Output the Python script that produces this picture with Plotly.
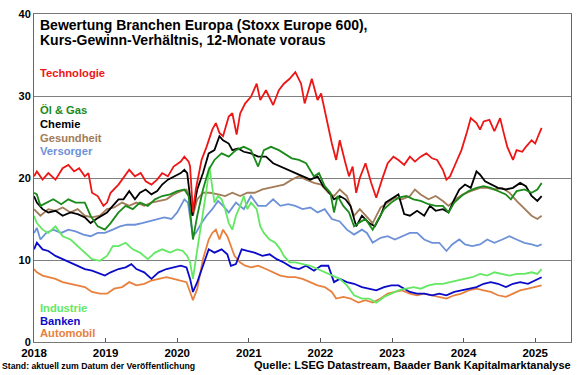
import plotly.graph_objects as go

# ---- data: (decimal year, forward P/E) ----
TECHNOLOGIE = [(2018.00,20.2),(2018.04,20.8),(2018.12,19.8),(2018.20,20.6),(2018.30,19.8),(2018.40,21.2),(2018.48,21.6),(2018.56,20.8),(2018.63,21.2),(2018.71,20.2),(2018.76,20.6),(2018.81,18.2),(2018.89,17.8),(2018.97,16.6),(2019.02,17.0),(2019.07,18.2),(2019.18,19.2),(2019.28,20.4),(2019.33,21.0),(2019.41,20.2),(2019.49,20.6),(2019.56,19.6),(2019.64,19.2),(2019.72,19.8),(2019.79,20.6),(2019.87,20.2),(2019.95,21.4),(2020.05,22.0),(2020.10,22.6),(2020.16,22.0),(2020.18,21.4),(2020.22,15.8),(2020.26,18.6),(2020.34,22.2),(2020.41,23.8),(2020.49,25.9),(2020.54,26.7),(2020.59,25.5),(2020.64,25.1),(2020.72,27.5),(2020.77,27.9),(2020.83,25.3),(2020.88,27.9),(2020.95,29.1),(2021.03,29.9),(2021.11,31.5),(2021.16,29.5),(2021.24,30.7),(2021.34,28.9),(2021.42,30.7),(2021.49,31.5),(2021.57,32.1),(2021.65,32.9),(2021.73,31.5),(2021.78,29.1),(2021.88,32.1),(2021.96,29.5),(2022.01,30.3),(2022.06,28.3),(2022.11,25.9),(2022.16,24.2),(2022.22,22.2),(2022.27,24.6),(2022.35,21.8),(2022.40,20.2),(2022.45,21.4),(2022.50,18.2),(2022.55,20.0),(2022.63,21.8),(2022.71,19.4),(2022.78,17.6),(2022.86,19.8),(2022.94,21.8),(2023.02,22.6),(2023.09,22.2),(2023.17,21.6),(2023.25,22.6),(2023.32,22.0),(2023.40,22.6),(2023.48,23.0),(2023.56,22.4),(2023.63,22.2),(2023.71,21.0),(2023.76,19.8),(2023.81,20.2),(2023.89,21.8),(2023.97,23.4),(2024.05,25.7),(2024.10,27.3),(2024.18,26.7),(2024.23,25.9),(2024.28,26.9),(2024.36,27.1),(2024.43,25.7),(2024.51,27.3),(2024.56,25.5),(2024.61,23.8),(2024.69,22.2),(2024.74,23.4),(2024.82,23.2),(2024.87,23.8),(2024.95,24.6),(2025.00,24.2),(2025.05,25.3),(2025.09,26.1)]

OEL_GAS = [(2018.00,18.2),(2018.04,18.0),(2018.09,16.6),(2018.17,17.0),(2018.27,17.4),(2018.38,16.8),(2018.48,17.4),(2018.58,17.0),(2018.71,17.0),(2018.79,15.4),(2018.89,14.1),(2018.99,13.7),(2019.07,14.5),(2019.18,15.8),(2019.28,16.6),(2019.38,16.2),(2019.48,17.0),(2019.59,16.6),(2019.69,17.4),(2019.79,17.8),(2019.90,18.0),(2020.00,18.4),(2020.10,18.6),(2020.16,17.8),(2020.22,12.5),(2020.28,15.4),(2020.36,18.6),(2020.44,21.0),(2020.52,22.2),(2020.62,23.0),(2020.72,22.6),(2020.82,23.4),(2020.93,23.8),(2021.03,23.4),(2021.13,21.4),(2021.21,23.4),(2021.31,23.8),(2021.42,23.4),(2021.49,23.0),(2021.60,22.4),(2021.70,22.2),(2021.80,21.8),(2021.91,20.2),(2021.98,20.6),(2022.06,19.0),(2022.14,18.2),(2022.19,15.8),(2022.24,17.8),(2022.32,16.6),(2022.40,15.8),(2022.47,14.1),(2022.53,14.5),(2022.63,15.0),(2022.73,13.7),(2022.81,15.0),(2022.89,16.2),(2022.99,17.0),(2023.09,17.6),(2023.20,17.8),(2023.30,17.4),(2023.40,17.2),(2023.51,16.8),(2023.61,16.6),(2023.71,16.6),(2023.79,15.8),(2023.87,17.0),(2023.97,17.8),(2024.07,18.4),(2024.18,18.8),(2024.28,19.0),(2024.38,18.8),(2024.48,18.4),(2024.59,18.0),(2024.66,17.4),(2024.74,18.4),(2024.85,18.6),(2024.95,18.2),(2025.03,18.6),(2025.09,19.4)]

CHEMIE = [(2018.00,17.8),(2018.04,17.0),(2018.12,16.2),(2018.20,15.8),(2018.30,16.0),(2018.40,15.4),(2018.51,15.8),(2018.61,15.6),(2018.71,15.2),(2018.79,14.5),(2018.87,15.0),(2018.94,15.4),(2019.02,15.8),(2019.10,16.6),(2019.18,17.4),(2019.25,17.4),(2019.33,18.4),(2019.41,17.4),(2019.48,18.2),(2019.56,18.6),(2019.64,18.0),(2019.72,18.4),(2019.79,19.2),(2019.87,19.8),(2019.95,20.2),(2020.05,20.6),(2020.10,21.0),(2020.14,20.6),(2020.21,15.4),(2020.28,18.6),(2020.36,20.6),(2020.44,23.0),(2020.52,23.4),(2020.59,25.1),(2020.64,24.6),(2020.72,24.2),(2020.77,23.4),(2020.85,23.6),(2020.93,23.2),(2021.03,23.0),(2021.13,22.6),(2021.24,22.6),(2021.34,21.8),(2021.44,21.4),(2021.55,21.0),(2021.65,20.6),(2021.75,20.2),(2021.86,19.8),(2021.96,20.2),(2022.04,19.0),(2022.11,18.4),(2022.19,17.4),(2022.27,17.8),(2022.35,17.4),(2022.42,16.6),(2022.50,14.1),(2022.58,15.4),(2022.68,14.5),(2022.76,14.1),(2022.84,15.4),(2022.91,17.0),(2022.99,17.4),(2023.09,18.0),(2023.17,15.6),(2023.25,15.4),(2023.35,16.0),(2023.45,15.4),(2023.53,16.6),(2023.61,16.0),(2023.71,16.2),(2023.79,15.8),(2023.87,17.4),(2023.94,18.6),(2024.02,19.2),(2024.10,18.8),(2024.18,20.8),(2024.23,20.4),(2024.30,19.6),(2024.38,19.2),(2024.48,18.8),(2024.59,18.6),(2024.69,18.8),(2024.79,19.4),(2024.87,19.0),(2024.95,17.8),(2025.03,17.2),(2025.09,17.8)]

GESUNDHEIT = [(2018.00,16.2),(2018.09,15.4),(2018.20,16.2),(2018.30,16.0),(2018.40,16.4),(2018.51,15.8),(2018.61,16.2),(2018.71,15.4),(2018.81,15.2),(2018.92,15.4),(2019.02,16.2),(2019.12,16.4),(2019.23,17.0),(2019.33,16.6),(2019.43,17.0),(2019.54,16.6),(2019.64,17.0),(2019.74,17.2),(2019.85,17.4),(2019.95,18.0),(2020.05,18.4),(2020.13,18.6),(2020.18,17.4),(2020.22,15.4),(2020.28,17.4),(2020.36,18.2),(2020.46,18.2),(2020.57,18.0),(2020.67,17.8),(2020.77,18.2),(2020.88,17.8),(2020.98,18.2),(2021.08,18.2),(2021.19,18.6),(2021.29,18.8),(2021.39,19.0),(2021.49,19.2),(2021.60,19.8),(2021.70,20.2),(2021.80,19.8),(2021.91,19.4),(2022.01,19.2),(2022.11,18.2),(2022.19,17.8),(2022.27,18.6),(2022.37,17.8),(2022.47,15.4),(2022.55,16.2),(2022.65,15.2),(2022.73,14.5),(2022.84,16.4),(2022.94,17.0),(2023.04,17.6),(2023.14,17.4),(2023.25,17.8),(2023.32,18.6),(2023.40,18.0),(2023.51,17.4),(2023.61,17.8),(2023.71,17.2),(2023.79,16.6),(2023.89,17.4),(2023.99,18.0),(2024.10,18.4),(2024.23,18.8),(2024.33,18.8),(2024.43,18.6),(2024.54,18.8),(2024.64,18.2),(2024.74,17.2),(2024.85,16.2),(2024.95,15.4),(2025.03,15.0),(2025.09,15.4)]

VERSORGER = [(2018.00,13.3),(2018.04,13.9),(2018.09,12.5),(2018.17,13.3),(2018.27,13.7),(2018.38,13.3),(2018.48,13.7),(2018.58,13.5),(2018.69,13.1),(2018.79,12.9),(2018.89,13.3),(2018.99,13.3),(2019.10,13.7),(2019.20,14.1),(2019.30,14.3),(2019.41,14.3),(2019.51,14.5),(2019.61,14.7),(2019.72,15.0),(2019.82,15.2),(2019.92,15.0),(2020.00,15.8),(2020.10,17.4),(2020.15,17.0),(2020.22,12.9),(2020.26,13.3),(2020.34,14.5),(2020.41,15.4),(2020.49,16.2),(2020.57,17.2),(2020.64,16.6),(2020.72,15.8),(2020.82,17.0),(2020.93,16.2),(2021.03,17.8),(2021.13,16.6),(2021.24,16.6),(2021.34,17.4),(2021.44,16.6),(2021.55,16.8),(2021.65,16.6),(2021.75,16.2),(2021.86,16.4),(2021.96,15.8),(2022.06,16.2),(2022.16,15.0),(2022.27,14.7),(2022.37,13.7),(2022.47,13.1),(2022.58,13.7),(2022.65,13.3),(2022.73,12.1),(2022.84,12.7),(2022.94,12.9),(2023.04,12.5),(2023.14,12.9),(2023.25,13.3),(2023.35,13.3),(2023.45,12.5),(2023.56,12.1),(2023.66,12.1),(2023.76,11.1),(2023.84,11.9),(2023.94,12.5),(2024.02,11.9),(2024.12,11.7),(2024.23,11.9),(2024.33,12.5),(2024.43,12.1),(2024.54,12.5),(2024.64,12.9),(2024.74,12.5),(2024.85,12.1),(2024.95,11.9),(2025.03,11.7),(2025.09,11.9)]

INDUSTRIE = [(2018.00,15.4),(2018.04,14.5),(2018.12,13.7),(2018.20,13.3),(2018.30,14.1),(2018.40,12.9),(2018.51,12.5),(2018.61,11.7),(2018.71,10.9),(2018.81,10.1),(2018.92,9.9),(2019.02,10.5),(2019.10,11.7),(2019.18,11.7),(2019.28,12.1),(2019.38,11.3),(2019.48,10.9),(2019.59,10.1),(2019.69,10.9),(2019.79,11.3),(2019.90,10.9),(2020.00,11.3),(2020.08,11.1),(2020.14,10.5),(2020.18,9.7),(2020.22,7.7),(2020.26,10.1),(2020.31,12.9),(2020.36,15.4),(2020.41,18.6),(2020.45,21.4),(2020.49,18.6),(2020.52,17.0),(2020.57,17.8),(2020.62,17.4),(2020.67,16.2),(2020.72,14.5),(2020.77,13.7),(2020.82,15.4),(2020.88,16.6),(2020.93,17.8),(2020.98,16.2),(2021.03,17.0),(2021.11,16.2),(2021.16,14.1),(2021.21,13.3),(2021.29,12.5),(2021.37,12.1),(2021.44,11.3),(2021.49,10.5),(2021.57,9.7),(2021.65,9.7),(2021.75,9.5),(2021.86,9.3),(2021.96,8.9),(2022.06,8.5),(2022.16,8.1),(2022.27,7.7),(2022.37,6.9),(2022.47,5.7),(2022.58,5.3),(2022.68,5.3),(2022.78,4.8),(2022.89,5.5),(2022.99,5.9),(2023.09,6.3),(2023.20,6.5),(2023.30,6.7),(2023.40,6.5),(2023.51,6.9),(2023.61,7.1),(2023.71,7.1),(2023.81,7.3),(2023.92,7.5),(2024.02,7.7),(2024.12,7.9),(2024.23,8.3),(2024.33,8.1),(2024.43,8.5),(2024.54,8.3),(2024.64,8.1),(2024.74,8.3),(2024.85,8.3),(2024.95,8.5),(2025.03,8.3),(2025.09,8.9)]

BANKEN = [(2018.00,11.3),(2018.04,12.1),(2018.12,11.3),(2018.20,11.1),(2018.30,10.5),(2018.40,10.1),(2018.51,9.7),(2018.61,9.3),(2018.71,8.9),(2018.81,8.7),(2018.92,8.3),(2018.99,8.1),(2019.07,8.5),(2019.18,8.9),(2019.28,9.1),(2019.36,9.5),(2019.43,8.9),(2019.54,8.5),(2019.64,7.7),(2019.74,8.5),(2019.85,8.9),(2019.95,9.1),(2020.05,9.3),(2020.13,9.1),(2020.18,7.7),(2020.22,6.1),(2020.28,7.3),(2020.36,9.3),(2020.44,11.3),(2020.52,10.9),(2020.62,11.3),(2020.70,10.7),(2020.75,9.3),(2020.82,9.5),(2020.90,11.3),(2020.98,11.1),(2021.08,10.9),(2021.19,10.5),(2021.29,10.7),(2021.39,10.1),(2021.49,9.7),(2021.60,9.1),(2021.70,8.9),(2021.80,9.3),(2021.91,8.7),(2022.01,9.3),(2022.11,9.3),(2022.19,7.3),(2022.27,7.7),(2022.37,7.3),(2022.47,7.1),(2022.58,6.7),(2022.68,6.5),(2022.78,6.3),(2022.89,6.7),(2022.99,6.9),(2023.09,6.9),(2023.17,6.5),(2023.25,6.1),(2023.35,5.9),(2023.45,5.9),(2023.56,5.7),(2023.66,5.9),(2023.76,5.7),(2023.87,6.1),(2023.97,6.3),(2024.07,6.5),(2024.18,6.7),(2024.28,7.1),(2024.38,7.3),(2024.48,7.1),(2024.59,6.7),(2024.69,7.1),(2024.79,7.3),(2024.90,7.1),(2025.00,7.5),(2025.09,7.9)]

AUTOMOBIL = [(2018.00,8.9),(2018.04,8.5),(2018.12,8.1),(2018.20,7.9),(2018.30,7.7),(2018.40,7.3),(2018.51,7.1),(2018.61,6.9),(2018.71,6.7),(2018.81,6.1),(2018.92,5.9),(2019.02,5.9),(2019.12,6.5),(2019.23,6.7),(2019.33,7.3),(2019.43,6.9),(2019.54,7.1),(2019.64,7.5),(2019.74,7.7),(2019.85,7.9),(2019.95,7.7),(2020.05,7.5),(2020.13,7.3),(2020.18,6.1),(2020.22,5.1),(2020.28,6.5),(2020.36,10.1),(2020.44,12.5),(2020.49,13.3),(2020.54,13.7),(2020.59,12.5),(2020.64,13.7),(2020.70,12.9),(2020.75,11.7),(2020.80,10.5),(2020.88,9.7),(2020.95,9.3),(2021.03,9.1),(2021.13,9.3),(2021.24,8.9),(2021.34,8.5),(2021.44,8.1),(2021.55,7.9),(2021.65,7.9),(2021.75,7.7),(2021.86,7.3),(2021.96,6.9),(2022.06,6.7),(2022.16,6.1),(2022.22,5.3),(2022.32,5.5),(2022.42,5.3),(2022.53,4.8),(2022.63,5.1),(2022.73,4.8),(2022.84,5.3),(2022.94,5.9),(2023.04,6.1),(2023.14,6.3),(2023.25,5.9),(2023.35,5.7),(2023.45,5.9),(2023.56,5.7),(2023.66,5.5),(2023.76,5.3),(2023.87,5.7),(2023.97,5.9),(2024.07,6.3),(2024.18,6.5),(2024.28,6.3),(2024.38,6.1),(2024.48,5.7),(2024.59,5.5),(2024.69,5.9),(2024.79,6.3),(2024.90,6.5),(2025.00,6.7),(2025.09,6.9)]

YEARS = [2018, 2019, 2020, 2021, 2022, 2023, 2024, 2025]
Y_TICKS = [0, 10, 20, 30, 40]

TITLE_1 = "Bewertung Branchen Europa (Stoxx Europe 600),"
TITLE_2 = "Kurs-Gewinn-Verhältnis, 12-Monate voraus"
SOURCE = "Quelle: LSEG Datastream, Baader Bank Kapitalmarktanalyse"
STAND = "Stand: aktuell zum Datum der Veröffentlichung"

# name, data, colour (drawing order: first = bottom)
SERIES = [
    ("Versorger", VERSORGER, "#6D91D8"),
    ("Gesundheit", GESUNDHEIT, "#A27C58"),
    ("Automobil", AUTOMOBIL, "#E8803E"),
    ("Banken", BANKEN, "#0A0AC8"),
    ("Industrie", INDUSTRIE, "#62E862"),
    ("Chemie", CHEMIE, "#000000"),
    ("Öl & Gas", OEL_GAS, "#1A8A1A"),
    ("Technologie", TECHNOLOGIE, "#EE1515"),
]

# label y positions (data units) inside the plot, left side
LABEL_Y = {
    "Technologie": 32.8, "Öl & Gas": 28.3, "Chemie": 26.6, "Gesundheit": 24.9,
    "Versorger": 23.25, "Industrie": 4.2, "Banken": 2.55, "Automobil": 1.15,
}

FONT = "Liberation Sans, Arial, sans-serif"

fig = go.Figure()
for name, data, color in SERIES:
    xs = [p[0] for p in data]
    ys = [p[1] for p in data]
    fig.add_trace(go.Scatter(x=xs, y=ys, mode="lines", name=name,
                             line=dict(color=color, width=1.8), showlegend=False))
    fig.add_annotation(x=2018.07, y=LABEL_Y[name], xref="x", yref="y", text=name,
                       showarrow=False, xanchor="left", yanchor="middle", borderpad=0,
                       font=dict(family=FONT, size=11.2, color=color, weight="bold"))

fig.add_annotation(xref="paper", yref="paper", x=0.009, y=0.966, text=TITLE_1,
                   showarrow=False, xanchor="left", yanchor="middle", borderpad=0,
                   font=dict(family=FONT, size=14, color="black", weight="bold"))
fig.add_annotation(xref="paper", yref="paper", x=0.009, y=0.920, text=TITLE_2,
                   showarrow=False, xanchor="left", yanchor="middle", borderpad=0,
                   font=dict(family=FONT, size=14, color="black", weight="bold"))

fig.add_annotation(xref="paper", yref="paper", x=1.002, y=-0.069, text=SOURCE,
                   showarrow=False, xanchor="right", yanchor="middle", borderpad=0,
                   font=dict(family=FONT, size=11, color="black", weight="bold"))
fig.add_annotation(xref="paper", yref="paper", x=-0.061, y=-0.072, text=STAND,
                   showarrow=False, xanchor="left", yanchor="middle", borderpad=0,
                   font=dict(family=FONT, size=8.7, color="black", weight="bold"))

fig.update_layout(
    width=580, height=375,
    margin=dict(l=34, r=8, t=10, b=33),
    paper_bgcolor="white", plot_bgcolor="white",
    font=dict(family=FONT, color="black"),
)
fig.update_xaxes(
    range=[2018, 2025.5], tickvals=YEARS, ticktext=[str(y) for y in YEARS],
    ticks="inside", ticklen=4, tickcolor="#555555",
    showgrid=False, zeroline=False,
    showline=True, linecolor="#777777", linewidth=1, mirror=True,
    tickfont=dict(family=FONT, size=11.5, color="black", weight="bold"),
)
fig.update_yaxes(
    range=[0, 40], tickvals=Y_TICKS, ticks="",
    showgrid=True, gridcolor="#7F7F7F", gridwidth=1, zeroline=False,
    showline=True, linecolor="#666666", linewidth=1, mirror=True,
    tickfont=dict(family=FONT, size=11, color="black", weight="bold"),
)

# remove the browser's default 8px body margin so the 580x375 figure fills the window
fig.write_html("out.html", config={"displayModeBar": False},
               post_script="document.body.style.margin='0';document.body.style.overflow='hidden';")
